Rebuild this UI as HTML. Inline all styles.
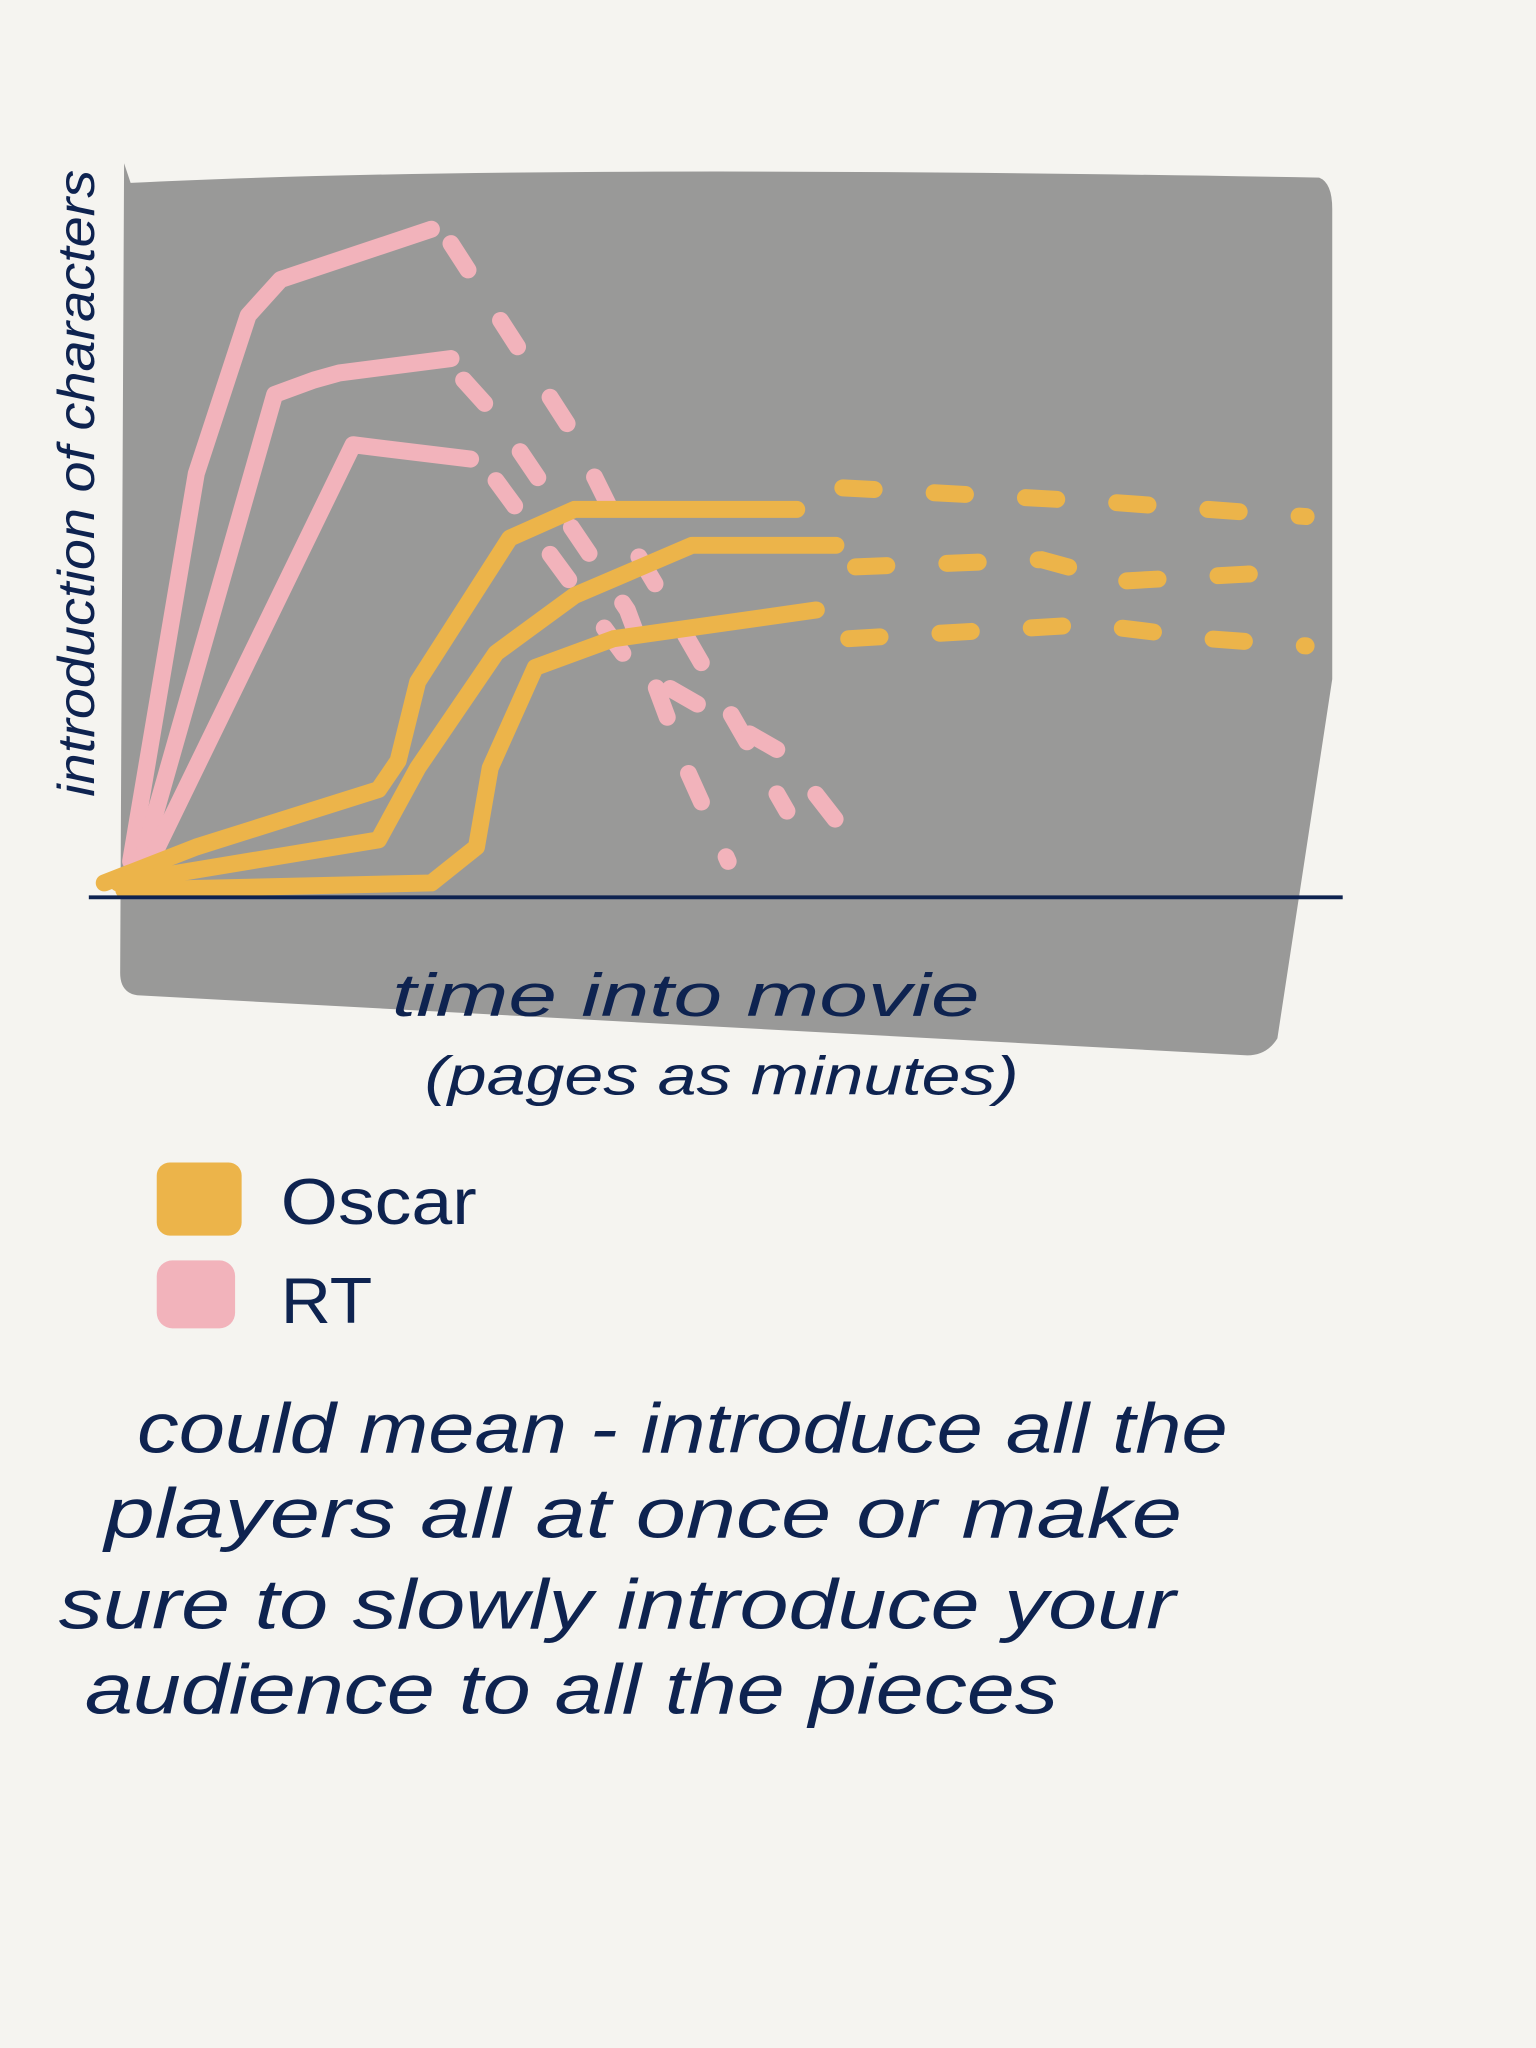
<!DOCTYPE html>
<html><head><meta charset="utf-8"><style>
html,body{margin:0;padding:0;background:#f5f4f0;}
svg{display:block}
text{font-family:"Liberation Sans",sans-serif;fill:#0e2350;}
</style></head><body>
<svg width="1536" height="2048" viewBox="0 0 1176 1568">
<rect x="0" y="0" width="1176" height="1568" fill="#f5f4f0"/>
<path d="M95,125 L100,140 Q400,125 1010,136 Q1020,140 1020,160 L1020,520 L978,795 Q970,808 955,808 L105,762 Q92,760 92,745 Z" fill="#999998"/>
<g id="series"></g>
<line x1="68" y1="687" x2="1028" y2="687" stroke="#0e2350" stroke-width="3"/>
<text x="0" y="0" font-size="40" transform="translate(72,370) rotate(-90)" text-anchor="middle" font-style="italic" textLength="480" lengthAdjust="spacingAndGlyphs">introduction of characters</text>
<text x="300" y="778" font-size="46" font-style="italic" textLength="450" lengthAdjust="spacingAndGlyphs">time into movie</text>
<text x="325" y="838" font-size="42" font-style="italic" textLength="455" lengthAdjust="spacingAndGlyphs">(pages as minutes)</text>
<rect x="120" y="890" width="65" height="56" rx="10" fill="#ecb44a"/>
<text x="215" y="937" font-size="50" textLength="150" lengthAdjust="spacingAndGlyphs">Oscar</text>
<rect x="120" y="965" width="60" height="52" rx="12" fill="#f2b3bb"/>
<text x="215" y="1013" font-size="50" textLength="70" lengthAdjust="spacingAndGlyphs">RT</text>
<g font-size="54" font-style="italic">
<text x="105" y="1112" textLength="835" lengthAdjust="spacingAndGlyphs">could mean - introduce all the</text>
<text x="80" y="1177" textLength="825" lengthAdjust="spacingAndGlyphs">players all at once or make</text>
<text x="45" y="1247" textLength="855" lengthAdjust="spacingAndGlyphs">sure to slowly introduce your</text>
<text x="65" y="1312" textLength="745" lengthAdjust="spacingAndGlyphs">audience to all the pieces</text>
</g>
</svg>
<script>
// x: minutes 0..120, y: characters introduced 0..100
const rt1Solid=[[0,5],[6.7,59],[12,81],[15.3,86],[30.7,93]];
const rt1Dash=[[32.7,91],[45,65],[49,54],[56,38],[67,12]];
const rt2Solid=[[0.7,3],[14.7,70],[18.7,72],[21.3,73],[32.7,75]];
const rt2Dash=[[34,72],[37.3,67],[50.7,40],[56.7,18],[61,5]];
const rt3Solid=[[1.3,3],[22.7,63],[34.7,61]];
const rt3Dash=[[37.3,58],[51.3,32],[66.7,20],[74.7,6]];
const osc1Solid=[[-2.7,2],[6.7,7],[25.3,15],[27.3,19],[29.3,30],[38.7,50],[45.3,54],[68,54]];
const osc1Dash=[[72.7,57],[100,55],[120,53]];
const osc2Solid=[[-1.3,2],[25.3,8],[29.3,18],[37.3,34],[45.3,42],[57.3,49],[72,49]];
const osc2Dash=[[74,46],[93,47],[101,44],[114,45],[120,45]];
const osc3Solid=[[-0.7,1],[30.7,2],[35.3,7],[36.7,18],[41.3,32],[49.3,36],[70,40]];
const osc3Dash=[[73.3,36],[98,38],[110,36],[120,35]];
const x=v=>100+v*7.5, y=v=>687-v*5.5;
const g=document.getElementById('series');
function draw(pts,color,dash,name){
  const p=document.createElementNS('http://www.w3.org/2000/svg','path');
  p.setAttribute('d',pts.map((q,i)=>(i?'L':'M')+x(q[0]).toFixed(1)+','+y(q[1]).toFixed(1)).join(' '));
  p.setAttribute('fill','none');p.setAttribute('stroke',color);p.setAttribute('stroke-width','13');
  p.setAttribute('stroke-linecap','round');p.setAttribute('stroke-linejoin','round');
  if(dash)p.setAttribute('stroke-dasharray','24 46');
  
  
  g.appendChild(p);
}
const PINK='#f2b3bb',OR='#ecb44a';
draw(rt1Solid,PINK,false,'rt-line-1');draw(rt1Dash,PINK,true,'rt-line-1-projection');
draw(rt2Solid,PINK,false,'rt-line-2');draw(rt2Dash,PINK,true,'rt-line-2-projection');
draw(rt3Solid,PINK,false,'rt-line-3');draw(rt3Dash,PINK,true,'rt-line-3-projection');
draw(osc1Solid,OR,false,'oscar-line-1');draw(osc1Dash,OR,true,'oscar-line-1-projection');
draw(osc2Solid,OR,false,'oscar-line-2');draw(osc2Dash,OR,true,'oscar-line-2-projection');
draw(osc3Solid,OR,false,'oscar-line-3');draw(osc3Dash,OR,true,'oscar-line-3-projection');
</script>
</body></html>
